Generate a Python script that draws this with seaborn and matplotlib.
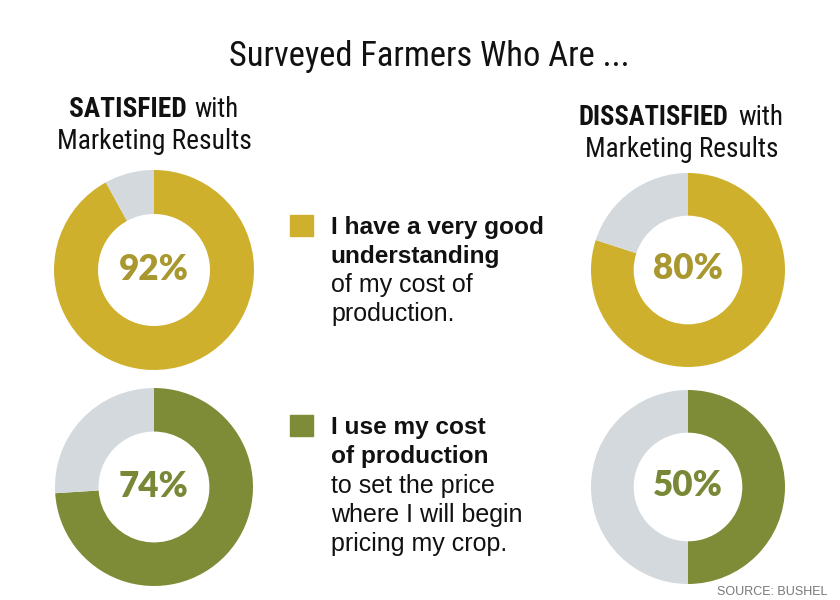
import os
import matplotlib
matplotlib.use("Agg")
import matplotlib.pyplot as plt
from matplotlib import font_manager
import seaborn as sns

sns.set_theme(style="white")
plt.rcParams['font.family'] = ['Liberation Sans', 'DejaVu Sans']
plt.rcParams['text.color'] = '#111111'

# data
groups = ['SATISFIED', 'DISSATISFIED']
understand_pct = [92, 80]   # I have a very good understanding of my cost of production
use_cost_pct = [74, 50]     # I use my cost of production to set the price
gold = '#CFB02C'
green = '#7E8C38'
gray = '#D3D9DD'
gold_txt = '#A8982F'
green_txt = '#798836'

# font files by name, so a condensed / heavy cut can be picked when it is there
files = {os.path.basename(f.fname).lower(): f.fname for f in font_manager.fontManager.ttflist}


def pick(cands, family='Liberation Sans', weight='normal'):
    for c in cands:
        if c.lower() in files:
            return font_manager.FontProperties(fname=files[c.lower()])
    return font_manager.FontProperties(family=family, weight=weight)


cond_reg = pick(['RobotoCondensed-Regular.ttf', 'IBMPlexSansCondensed-Regular.ttf',
                 'FiraSansCondensed-Regular.ttf', 'DejaVuSansCondensed.ttf',
                 'LiberationSansNarrow-Regular.ttf'])
cond_bold = pick(['RobotoCondensed-Bold.ttf', 'IBMPlexSansCondensed-Bold.ttf',
                  'FiraSansCondensed-Bold.ttf', 'DejaVuSansCondensed-Bold.ttf',
                  'LiberationSansNarrow-Bold.ttf'], weight='bold')
heavy = pick(['Lato-Black.ttf', 'Roboto-Black.ttf', 'DejaVuSans-Bold.ttf'], 'DejaVu Sans', 'bold')
bold = pick(['LiberationSans-Bold.ttf'], weight='bold')
regular = pick(['LiberationSans-Regular.ttf'])

W, H = 840, 600
fig = plt.figure(figsize=(W / 100, H / 100), dpi=100)
fig.patch.set_facecolor('white')
renderer = fig.canvas.get_renderer()


def fx(x):
    return x / W


def fy(y):
    return 1 - y / H


def put(x, y, s, fp, width, ha='left', color='#111111', size=None):
    # text at pixel position (baseline), sized so its width matches the reference
    t = fig.text(fx(x), fy(y), s, ha=ha, va='baseline', color=color, fontproperties=fp)
    t.set_fontsize(16)
    if size is not None:
        t.set_fontsize(size)
        return t
    for _ in range(2):
        w = t.get_window_extent(renderer).width
        t.set_fontsize(t.get_fontsize() * width / w)
    return t


def donut(cx, cy, r, pct, color):
    ax = fig.add_axes([fx(cx - r), fy(cy + r), 2 * r / W, 2 * r / H])
    ax.pie([pct, 100 - pct], colors=[color, gray], startangle=90, counterclock=False,
           radius=1, wedgeprops=dict(width=0.44, linewidth=0))
    ax.set_xlim(-1, 1)
    ax.set_ylim(-1, 1)
    ax.set_aspect('equal')
    ax.axis('off')


donut(154, 270, 100, understand_pct[0], gold)
donut(688, 270, 97, understand_pct[1], gold)
donut(154, 487, 99, use_cost_pct[0], green)
donut(688, 487, 97, use_cost_pct[1], green)

# percentages in the holes
p = put(154, 280, f'{understand_pct[0]}%', heavy, 70, ha='center', color=gold_txt)
ps = p.get_fontsize()
put(688, 279, f'{understand_pct[1]}%', heavy, 0, ha='center', color=gold_txt, size=ps)
put(154, 497, f'{use_cost_pct[0]}%', heavy, 0, ha='center', color=green_txt, size=ps)
put(688, 496, f'{use_cost_pct[1]}%', heavy, 0, ha='center', color=green_txt, size=ps)

# title
put(429, 66, 'Surveyed Farmers Who Are ...', cond_reg, 402, ha='center')

# column headers
put(69, 117, groups[0], cond_bold, 118)
put(194, 117, 'with', cond_reg, 44)
put(154.5, 149, 'Marketing Results', cond_reg, 195, ha='center')
put(578, 125, groups[1], cond_bold, 151)
put(738, 125, 'with', cond_reg, 45)
put(682, 157, 'Marketing Results', cond_reg, 194, ha='center')

# legend blocks
fs_b = put(331, 234, 'I have a very good', bold, 213).get_fontsize()
put(331, 263, 'understanding', bold, 0, size=fs_b)
fs_r = put(331, 292, 'of my cost of', regular, 142).get_fontsize()
put(331, 321, 'production.', regular, 0, size=fs_r)

put(331, 434, 'I use my cost', bold, 0, size=fs_b)
put(331, 463, 'of production', bold, 0, size=fs_b)
put(331, 493, 'to set the price', regular, 0, size=fs_r)
put(331, 522, 'where I will begin', regular, 0, size=fs_r)
put(331, 551, 'pricing my crop.', regular, 0, size=fs_r)

for top, col in [(215, gold), (415, green)]:
    fig.patches.append(plt.Rectangle((fx(290), fy(top + 21)), 23 / W, 21 / H,
                                     transform=fig.transFigure, color=col))

put(827, 595, 'SOURCE: BUSHEL', regular, 110, ha='right', color='#777777')

fig.savefig('out.png', dpi=100, facecolor='white')
